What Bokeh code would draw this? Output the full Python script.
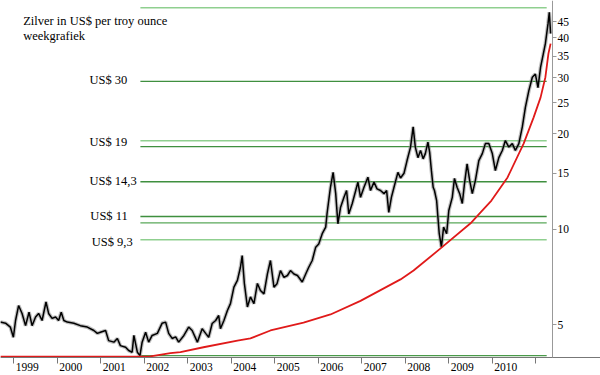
from bokeh.plotting import figure
from bokeh.models import Range1d, FixedTicker, PrintfTickFormatter, Label
from bokeh.core.properties import value
from bokeh.embed import file_html
from bokeh.resources import INLINE

# ---- data ----
price_years = [1998.69, 1998.81, 1998.92, 1998.99, 1999.04, 1999.11, 1999.19, 1999.27, 1999.35, 1999.42,
               1999.50, 1999.57, 1999.65, 1999.74, 1999.80, 1999.88, 1999.96, 2000.03, 2000.09, 2000.15,
               2000.23, 2000.38, 2000.53, 2000.69, 2000.84, 2000.92, 2000.99, 2001.11, 2001.18, 2001.30,
               2001.38, 2001.45, 2001.57, 2001.64, 2001.72, 2001.76, 2001.84, 2001.90, 2001.95, 2002.03,
               2002.10, 2002.18, 2002.30, 2002.41, 2002.49, 2002.56, 2002.64, 2002.72, 2002.79, 2002.91,
               2003.02, 2003.10, 2003.22, 2003.33, 2003.41, 2003.48, 2003.56, 2003.64, 2003.71, 2003.75,
               2003.83, 2003.91, 2003.98, 2004.06, 2004.14, 2004.21, 2004.25, 2004.30, 2004.37, 2004.44,
               2004.52, 2004.60, 2004.67, 2004.75, 2004.83, 2004.90, 2004.98, 2005.05, 2005.13, 2005.21,
               2005.29, 2005.36, 2005.44, 2005.52, 2005.63, 2005.71, 2005.78, 2005.86, 2005.94, 2006.01,
               2006.09, 2006.17, 2006.20, 2006.26, 2006.28, 2006.34, 2006.40, 2006.45, 2006.51, 2006.59,
               2006.65, 2006.70, 2006.78, 2006.86, 2006.91, 2006.97, 2007.05, 2007.14, 2007.20, 2007.28,
               2007.35, 2007.43, 2007.51, 2007.57, 2007.62, 2007.68, 2007.74, 2007.83, 2007.89, 2007.97,
               2008.04, 2008.12, 2008.18, 2008.23, 2008.29, 2008.35, 2008.41, 2008.46, 2008.52, 2008.56,
               2008.60, 2008.64, 2008.67, 2008.72, 2008.75, 2008.78, 2008.83, 2008.88, 2008.95, 2009.00,
               2009.08, 2009.13, 2009.19, 2009.25, 2009.31, 2009.36, 2009.42, 2009.48, 2009.54, 2009.61,
               2009.69, 2009.77, 2009.84, 2009.92, 2010.00, 2010.07, 2010.15, 2010.23, 2010.30, 2010.38,
               2010.46, 2010.53, 2010.61, 2010.69, 2010.76, 2010.84, 2010.92, 2010.99, 2011.05, 2011.11,
               2011.17, 2011.22, 2011.28, 2011.31, 2011.34]
price_values = [5.10, 5.06, 4.92, 4.57, 5.16, 5.75, 5.43, 4.97, 5.48, 4.97,
                5.29, 5.43, 5.16, 5.90, 5.43, 5.24, 5.29, 5.16, 5.48, 5.16,
                5.10, 5.06, 4.97, 4.92, 4.80, 4.70, 4.74, 4.80, 4.46, 4.41,
                4.53, 4.30, 4.25, 4.15, 4.10, 4.63, 4.10, 4.00, 4.41, 4.74,
                4.41, 4.63, 4.70, 5.06, 5.10, 4.70, 4.53, 4.58, 4.41, 4.63,
                4.92, 4.80, 4.41, 4.86, 4.70, 4.57, 5.05, 5.16, 5.35, 4.86,
                5.16, 5.55, 5.83, 6.57, 6.90, 7.59, 8.26, 6.75, 5.69, 6.12,
                5.83, 6.75, 6.41, 6.26, 7.23, 7.97, 6.57, 6.73, 7.41, 7.05,
                7.15, 7.41, 7.23, 7.15, 6.82, 7.23, 7.59, 7.97, 8.78, 8.99,
                9.68, 10.15, 11.17, 12.94, 13.56, 15.10, 12.94, 10.40, 11.70, 12.60,
                13.24, 11.17, 12.05, 13.24, 14.07, 12.60, 13.56, 14.58, 13.24, 14.07,
                13.40, 13.24, 12.94, 13.24, 11.30, 12.60, 13.56, 15.10, 14.50, 15.00,
                16.45, 18.14, 21.00, 18.14, 16.80, 17.69, 16.65, 17.30, 18.80, 17.45,
                15.30, 13.56, 13.24, 12.31, 10.90, 9.68, 8.78, 10.15, 9.68, 11.45,
                12.60, 14.45, 13.56, 12.94, 12.05, 13.90, 16.05, 14.23, 12.94, 14.23,
                16.45, 17.30, 18.60, 18.60, 17.30, 15.30, 16.80, 17.69, 19.02, 18.14,
                18.60, 17.69, 18.60, 21.00, 24.20, 27.32, 30.10, 30.80, 27.90, 32.40,
                35.50, 38.40, 44.30, 48.20, 41.30]

red_years = [1998.69, 2001.91, 2002.14, 2002.60, 2002.83, 2003.36, 2004.14, 2004.44, 2004.90, 2005.66,
             2006.28, 2006.97, 2007.89, 2008.19, 2008.81, 2009.50, 2009.73, 2009.98, 2010.35, 2010.72,
             2010.95, 2011.11, 2011.22, 2011.29, 2011.34]
red_values = [3.97, 3.97, 3.98, 4.07, 4.10, 4.25, 4.46, 4.53, 4.80, 5.08,
              5.39, 5.95, 6.95, 7.41, 8.70, 10.44, 11.29, 12.31, 14.55, 18.60,
              22.50, 26.00, 30.10, 35.70, 38.40]

level_values = [49.8, 29.2, 19.0, 18.2, 14.1, 10.96, 10.47, 9.26, 4.0]
level_colors = ["#8fcf8f", "#3f8f3f", "#8fcf8f", "#3f8f3f", "#3f8f3f", "#3f8f3f", "#5aa85a", "#8fcf8f", "#4a9a4a"]
level_start = 2001.91
level_end = 2011.25

level_labels = ["US$ 30", "US$ 19", "US$ 14,3", "US$ 11", "US$ 9,3"]
level_label_values = [29.6, 18.8, 14.2, 11.0, 9.1]
level_label_years = [2000.74, 2000.74, 2000.74, 2000.76, 2000.79]

x_ticks = [1999.0, 2000.0, 2001.0, 2002.0, 2003.0, 2004.0, 2005.0, 2006.0, 2007.0, 2008.0, 2009.0, 2010.0, 2011.0]
x_tick_labels = ["1999", "2000", "2001", "2002", "2003", "2004", "2005", "2006", "2007", "2008", "2009", "2010", ""]
y_ticks = [5, 10, 15, 20, 25, 30, 35, 40, 45]

axis_floor = 3.94        # price level where the time axis sits
year_label_level = 3.677  # price level of the year-label row (below the axis)
axis_year = 2011.384     # time where the price axis sits
x_start, x_end = 1998.694, 2012.487
y_bottom, y_top = 3.463, 52.49

title_lines = ["Zilver in US$ per troy ounce", "weekgrafiek"]
title_year = 1999.216
title_values = [45.4, 40.7]

SERIF = "Liberation Serif"

p = figure(width=600, height=375, output_backend="svg", toolbar_location=None,
           y_axis_type="log", y_axis_location="right",
           x_range=Range1d(x_start, x_end), y_range=Range1d(y_bottom, y_top),
           min_border_left=0, min_border_top=0, min_border_right=0, min_border_bottom=0)
p.outline_line_color = None
p.xgrid.visible = False
p.ygrid.visible = False
p.background_fill_color = "white"
p.border_fill_color = "white"

# horizontal levels
p.segment(x0=[level_start] * len(level_values), y0=level_values,
          x1=[level_end] * len(level_values), y1=level_values,
          line_color=level_colors, line_width=1.4)

# price (weekly)
p.line(price_years, price_values, line_color="#8a8a8a", line_width=3.8, line_alpha=0.55)
p.line(price_years, price_values, line_color="black", line_width=1.5)

# red curve
p.line(red_years, red_values, line_color="#e01a1a", line_width=1.8)

# level labels
p.text(x=level_label_years, y=level_label_values, text=level_labels,
       text_font=value(SERIF), text_font_size="12.5px", text_baseline="middle",
       text_color="black")

# title text
for line_text, yv in zip(title_lines, title_values):
    p.add_layout(Label(x=title_year, y=yv, text=line_text, text_font=SERIF,
                       text_font_size="12.5px", text_baseline="middle", text_color="black"))

# x axis, drawn at the price floor
xa = p.xaxis[0]
xa.fixed_location = axis_floor
xa.ticker = FixedTicker(ticks=x_ticks)
xa.minor_tick_line_color = None
xa.major_tick_in = 0
xa.major_tick_out = 6
xa.major_tick_line_color = "#777777"
xa.axis_line_color = "#777777"
xa.major_label_text_color = None

# year labels, placed just right of each tick
p.text(x=x_ticks, y=[year_label_level] * len(x_ticks), text=x_tick_labels,
       text_font=value(SERIF), text_font_size="11.5px", text_baseline="middle",
       text_align="left", x_offset=2, text_color="black")

# y axis (right)
ya = p.yaxis[0]
ya.fixed_location = axis_year
ya.bounds = (axis_floor, y_top)
ya.ticker = FixedTicker(ticks=y_ticks)
ya.formatter = PrintfTickFormatter(format="%d")
ya.minor_tick_line_color = None
ya.major_tick_in = 0
ya.major_tick_out = 4
ya.major_tick_line_color = "#999999"
ya.axis_line_color = "#999999"
ya.major_label_standoff = 1
ya.major_label_text_font = SERIF
ya.major_label_text_font_size = "11.5px"
ya.major_label_text_color = "black"

open("out.html", "w").write(file_html(p, INLINE))
